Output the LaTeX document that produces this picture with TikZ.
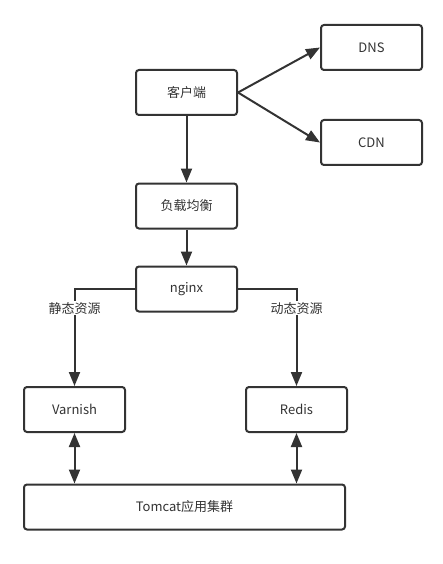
\documentclass[tikz,border=0pt]{standalone}
\usepackage{fontspec}
\setmainfont{Noto Sans CJK SC}
\usetikzlibrary{arrows.meta}
\definecolor{ln}{HTML}{333333}
\begin{document}
\begin{tikzpicture}[x=1pt,y=-1pt,
  box/.style={draw=ln,line width=2pt,rounded corners=3pt,minimum height=45pt,inner sep=0pt,font=\fontsize{13}{15}\selectfont,text=ln},
  conn/.style={draw=ln,line width=2pt,-{Triangle[length=14pt,width=11pt]}},
  conn2/.style={draw=ln,line width=2pt,{Triangle[length=14pt,width=11pt]}-{Triangle[length=14pt,width=11pt]}},
  lbl/.style={fill=white,inner sep=1pt,font=\fontsize{13}{15}\selectfont,text=ln}]
\useasboundingbox (0,0) rectangle (442,564);
\node[box,minimum width=101pt] (client) at (186.5,92.5) {客户端};
\node[box,minimum width=101pt] (dns) at (371.5,47.5) {DNS};
\node[box,minimum width=101pt] (cdn) at (371.5,142.5) {CDN};
\node[box,minimum width=101pt] (lb) at (186.5,206) {负载均衡};
\node[box,minimum width=101pt] (nginx) at (186.5,289) {nginx};
\node[box,minimum width=101pt] (varnish) at (74.5,409.5) {Varnish};
\node[box,minimum width=101pt] (redis) at (296.5,409.5) {Redis};
\node[box,minimum width=321pt] (tomcat) at (184.5,507) {Tomcat应用集群};
\draw[conn] (client.east) -- (dns.west);
\draw[conn] (client.east) -- (cdn.west);
\draw[conn] (client.south) -- (lb.north);
\draw[conn] (lb.south) -- (nginx.north);
\draw[conn] (nginx.west) -| node[lbl,pos=0.6] {静态资源} (varnish.north);
\draw[conn] (nginx.east) -| node[lbl,pos=0.6] {动态资源} (redis.north);
\draw[conn2] (varnish.south) -- (varnish.south |- tomcat.north);
\draw[conn2] (redis.south) -- (redis.south |- tomcat.north);
\end{tikzpicture}
\end{document}
